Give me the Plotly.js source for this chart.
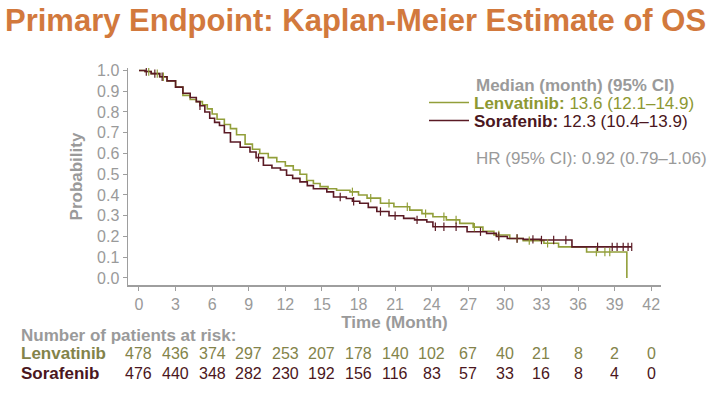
<!DOCTYPE html>
<html>
<head>
<meta charset="utf-8">
<script src="https://cdn.plot.ly/plotly-3.0.1.min.js"></script>
<style>
html,body{margin:0;padding:0;background:#fff;}
#chart{width:720px;height:394px;}
</style>
</head>
<body>
<div id="chart"></div>
<script>
// ---- Data ----
const lenvTime = [0,0.5,1,1.7,2.3,3.0,3.6,4.2,4.7,5.2,5.6,6.0,6.4,7.0,7.5,8.0,8.7,9.3,9.9,10.6,11.3,12.0,12.65,13.2,13.75,14.3,14.85,15.5,16.2,17.3,18.0,18.7,19.8,20.9,22.2,23.2,24.1,25.2,26.3,27.4,28.2,29.1,30.4,31.5,33.2,34.4,36.7,40.0];
const lenvSurv = [1.0,0.995,0.985,0.97,0.95,0.92,0.88,0.86,0.85,0.835,0.815,0.79,0.765,0.74,0.72,0.69,0.645,0.62,0.60,0.58,0.56,0.54,0.52,0.50,0.47,0.455,0.44,0.43,0.423,0.415,0.40,0.385,0.36,0.343,0.327,0.31,0.295,0.28,0.263,0.245,0.225,0.207,0.19,0.18,0.167,0.15,0.125,0.0];
const soraTime = [0,0.5,1,1.7,2.3,3.0,3.6,4.2,4.7,5.0,5.4,5.8,6.2,6.6,7.0,7.5,8.3,9.1,9.6,10.2,10.9,11.6,12.1,12.6,13.2,13.8,14.3,15.4,15.95,17.0,17.5,18.1,18.8,19.5,20.5,21.7,22.6,23.6,24.1,26.9,28.5,29.3,30.2,31.5,32.9,35.5,40.4];
const soraSurv = [1.0,0.995,0.985,0.97,0.95,0.92,0.89,0.87,0.85,0.83,0.80,0.77,0.75,0.735,0.70,0.655,0.63,0.607,0.58,0.543,0.53,0.52,0.495,0.48,0.463,0.445,0.43,0.415,0.39,0.383,0.37,0.36,0.34,0.32,0.30,0.287,0.28,0.27,0.247,0.223,0.215,0.20,0.19,0.186,0.183,0.15,0.15];
const lenvCensor = [0.8,1.5,2.0,17.5,19.0,20.5,22.0,23.5,25.0,26.0,27.5,29.5,31.0,32.0,33.5,37.5,38.2,38.6];
const soraCensor = [0.6,1.3,1.9,5.0,9.8,16.5,17.6,19.8,21.0,22.8,24.3,25.0,26.0,28.0,29.5,31.0,32.3,33.0,34.0,35.0,37.6,38.8,39.2,39.7,40.1,40.4];

const riskTimes = [0,3,6,9,12,15,18,21,24,27,30,33,36,39,42];
const lenvRisk = [478,436,374,297,253,207,178,140,102,67,40,21,8,2,0];
const soraRisk = [476,440,348,282,230,192,156,116,83,57,33,16,8,4,0];

const lenvLabel = 'Lenvatinib';
const soraLabel = 'Sorafenib';
const lenvMedian = '13.6 (12.1–14.9)';
const soraMedian = '12.3 (10.4–13.9)';
const hrText = 'HR (95% CI): 0.92 (0.79–1.06)';

// ---- Styles ----
const FONT = 'Liberation Sans, Arial, sans-serif';
const GRAY = '#9a9a9a';
const LENV_LINE = '#929f3a';
const LENV_TEXT = '#8d9832';
const LENV_TAB = '#83834a';
const SORA_LINE = '#5a1a24';
const SORA_TEXT = '#4a1620';

function stepAt(times, surv, t){
  let v = surv[0];
  for (let i=0;i<times.length;i++){ if (times[i] <= t) v = surv[i]; else break; }
  return v;
}

const traces = [
  {x: lenvTime, y: lenvSurv, type:'scatter', mode:'lines', line:{shape:'hv', color:LENV_LINE, width:1.6},
   name:'<span style="color:'+LENV_TEXT+'"><b>'+lenvLabel+':</b> '+lenvMedian+'</span>', showlegend:true, legend:'legend'},
  {x: soraTime, y: soraSurv, type:'scatter', mode:'lines', line:{shape:'hv', color:SORA_LINE, width:1.6},
   name:'<span style="color:'+SORA_TEXT+'"><b>'+soraLabel+':</b> '+soraMedian+'</span>', showlegend:true, legend:'legend2'},
  {x: lenvCensor, y: lenvCensor.map(t=>stepAt(lenvTime,lenvSurv,t)), type:'scatter', mode:'markers',
   marker:{symbol:'line-ns-open', size:6, color:LENV_LINE, line:{color:LENV_LINE, width:1.2}}, showlegend:false, hoverinfo:'skip'},
  {x: soraCensor, y: soraCensor.map(t=>stepAt(soraTime,soraSurv,t)), type:'scatter', mode:'markers',
   marker:{symbol:'line-ns-open', size:6, color:SORA_LINE, line:{color:SORA_LINE, width:1.2}}, showlegend:false, hoverinfo:'skip'}
];

// paper coordinate helpers (plot area: x 128..661, y 68..285)
const L=128, R=661, T=68, B=285;
const px = v => (v-L)/(R-L);
const py = v => (B-v)/(B-T);

const annotations = [];
annotations.push({xref:'paper', yref:'paper', x:px(474), y:py(85), xanchor:'left', yanchor:'middle',
  text:'<b>Median (month) (95% CI)</b>', showarrow:false, font:{family:FONT, size:17, color:GRAY}});
annotations.push({xref:'paper', yref:'paper', x:px(474), y:py(158), xanchor:'left', yanchor:'middle',
  text:hrText, showarrow:false, font:{family:FONT, size:17, color:GRAY}});
annotations.push({xref:'paper', yref:'paper', x:px(19), y:py(335), xanchor:'left', yanchor:'middle',
  text:'<b>Number of patients at risk:</b>', showarrow:false, font:{family:FONT, size:17, color:GRAY}});
annotations.push({xref:'paper', yref:'paper', x:px(19), y:py(353), xanchor:'left', yanchor:'middle',
  text:'<b>'+lenvLabel+'</b>', showarrow:false, font:{family:FONT, size:17, color:LENV_TAB}});
annotations.push({xref:'paper', yref:'paper', x:px(19), y:py(373), xanchor:'left', yanchor:'middle',
  text:'<b>'+soraLabel+'</b>', showarrow:false, font:{family:FONT, size:17, color:SORA_TEXT}});
riskTimes.forEach((t,i)=>{
  annotations.push({xref:'x', yref:'paper', x:t, y:py(353), xanchor:'center', yanchor:'middle',
    text:String(lenvRisk[i]), showarrow:false, font:{family:FONT, size:16, color:LENV_TAB}});
  annotations.push({xref:'x', yref:'paper', x:t, y:py(373), xanchor:'center', yanchor:'middle',
    text:String(soraRisk[i]), showarrow:false, font:{family:FONT, size:16, color:SORA_TEXT}});
});

const legendBase = {xanchor:'left', yanchor:'middle', bgcolor:'rgba(0,0,0,0)', borderwidth:0,
                    font:{family:FONT, size:17, color:GRAY}, itemwidth:40};

const layout = {
  width:720, height:394,
  margin:{l:L, r:720-R, t:T, b:394-B, pad:0},
  paper_bgcolor:'#ffffff', plot_bgcolor:'#ffffff',
  font:{family:FONT, color:GRAY},
  title:{text:'<b>Primary Endpoint: Kaplan-Meier Estimate of OS</b>', x:5/720, xanchor:'left', xref:'container',
         y:20/394, yref:'container', yanchor:'middle', font:{family:FONT, size:31, color:'#d2793d'}},
  xaxis:{range:[-0.9,42.8], tick0:0, dtick:3, showgrid:false, zeroline:false,
         showline:true, linecolor:'#9e9e9e', linewidth:1.5, ticks:'outside', ticklen:4, tickcolor:'#9e9e9e',
         tickfont:{family:FONT, size:16, color:GRAY},
         title:{text:'<b>Time (Month)</b>', font:{family:FONT, size:17, color:GRAY}, standoff:4}},
  yaxis:{range:[-0.034,1.012], tick0:0, dtick:0.1, tickformat:'.1f', showgrid:false, zeroline:false,
         showline:true, linecolor:'#9e9e9e', linewidth:1.5, ticks:'outside', ticklen:4, tickcolor:'#9e9e9e',
         tickfont:{family:FONT, size:16, color:GRAY},
         title:{text:'<b>Probability</b>', font:{family:FONT, size:17, color:GRAY}, standoff:10}},
  showlegend:true,
  legend:Object.assign({}, legendBase, {x:px(424), y:py(103)}),
  legend2:Object.assign({}, legendBase, {x:px(424), y:py(121)}),
  annotations:annotations
};
// title y is measured from the bottom in container coords
layout.title.y = 1 - 20/394;

Plotly.newPlot('chart', traces, layout, {staticPlot:true, displayModeBar:false});
</script>
</body>
</html>
